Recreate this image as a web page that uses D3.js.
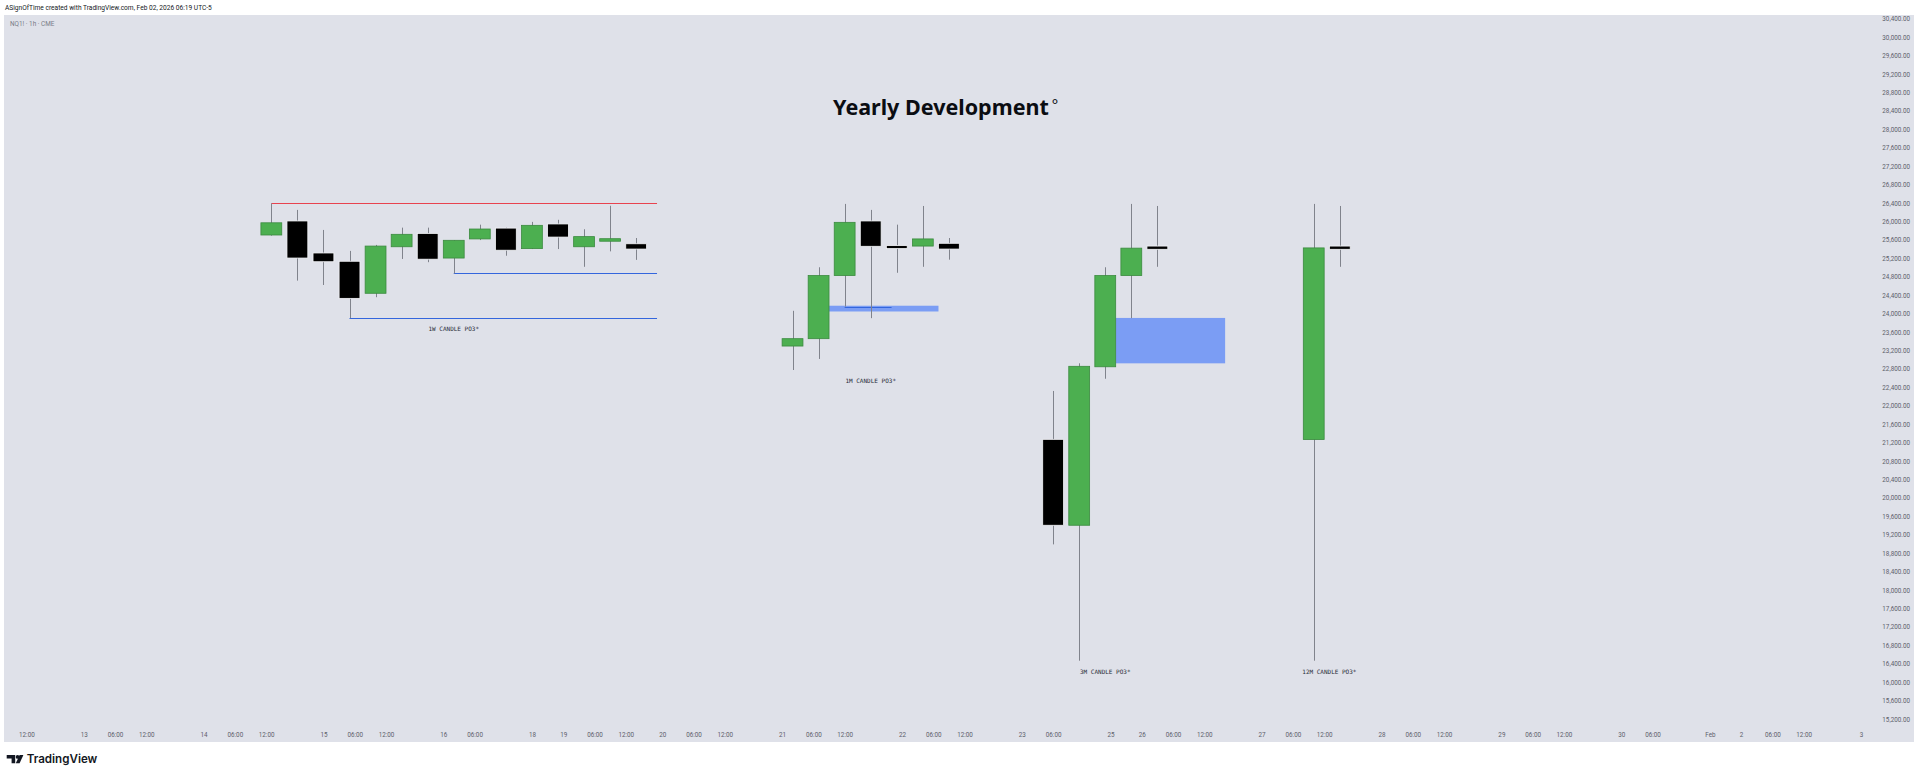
<!DOCTYPE html>
<html>
<head>
<meta charset="utf-8">
<script src="https://cdn.jsdelivr.net/npm/d3@7"></script>
<style>
  html, body { margin: 0; padding: 0; background: #fff; }
  #chart { width: 1920px; height: 776px; }
</style>
</head>
<body>
<div id="chart"></div>
<script>
// time axis: labels and their position in bar units (1h bars, bar 0 = Jan 13 00:00)
const timeLabels = ['12:00', '13', '06:00', '12:00', '14', '06:00', '12:00', '15', '06:00', '12:00',
  '16', '06:00', '18', '19', '06:00', '12:00', '20', '06:00', '12:00', '21', '06:00', '12:00',
  '22', '06:00', '12:00', '23', '06:00', '25', '26', '06:00', '12:00', '27', '06:00', '12:00',
  '28', '06:00', '12:00', '29', '06:00', '12:00', '30', '06:00', 'Feb', '2', '06:00', '12:00', '3'];
const timeBars = [-11, 0, 6, 12, 23, 29, 35, 46, 52, 58,
  69, 75, 86, 92, 98, 104, 111, 117, 123, 134, 140, 146,
  157, 163, 169, 180, 186, 197, 203, 209, 215, 226, 232, 238,
  249, 255, 261, 272, 278, 284, 295, 301, 312, 318, 324, 330, 341];

const priceTicks = [30400, 30000, 29600, 29200, 28800, 28400, 28000, 27600, 27200, 26800,
  26400, 26000, 25600, 25200, 24800, 24400, 24000, 23600, 23200, 22800,
  22400, 22000, 21600, 21200, 20800, 20400, 20000, 19600, 19200, 18800,
  18400, 18000, 17600, 17200, 16800, 16400, 16000, 15600, 15200];

// drawn candles (bar position + OHLC)
const candleBar = [36, 41, 46, 51, 56, 61, 66, 71, 76, 81, 86, 91, 96, 101, 106,
  136, 141, 146, 151, 156, 161, 166,
  186, 191, 196, 201, 206,
  236, 241];
const candleOpen = [25705, 26010, 25315, 25135, 24440, 25450, 25740, 25205, 25620, 25855, 25410, 25945, 25450, 25570, 25515,
  23295, 23455, 24825, 26010, 25475, 25465, 25525,
  21270, 19405, 22845, 24825, 25465,
  21265, 25465];
const candleHigh = [26390, 26250, 25815, 25360, 25490, 25865, 25865, 25595, 25930, 25865, 25990, 26035, 25830, 26340, 25640,
  24060, 25005, 26380, 26250, 25930, 26335, 25640,
  22320, 22920, 25005, 26380, 26335,
  26380, 26335];
const candleLow = [25690, 24715, 24620, 23900, 24355, 25185, 25115, 24870, 25595, 25255, 25400, 25400, 25015, 25350, 25165,
  22775, 23015, 24150, 23900, 24885, 25015, 25170,
  18990, 16465, 22585, 23900, 25015,
  16465, 25015];
const candleClose = [25970, 25205, 25125, 24330, 25465, 25720, 25180, 25590, 25835, 25375, 25915, 25660, 25670, 25625, 25400,
  23455, 24825, 25980, 25460, 25410, 25620, 25400,
  19405, 22855, 24825, 25420, 25395,
  25425, 25395];

// horizontal levels
const levelStart = [36, 71, 51, 146];
const levelEnd = [110, 110, 110, 155];
const levelPrice = [26390, 24870, 23900, 24150];
const levelKind = ['high', 'low', 'low', 'low'];

// gap zones
const zoneStart = [143, 198];
const zoneEnd = [164, 219];
const zoneTop = [24170, 23905];
const zoneBottom = [24045, 22920];

// text notes
const noteText = ['1W CANDLE PO3*', '1M CANDLE PO3*', '3M CANDLE PO3*', '12M CANDLE PO3*'];
const noteBar = [71, 151, 196, 239];
const notePrice = [23665, 22530, 16230, 16215];

const width = 1920;
const height = 776;

const pane = { left: 4, right: 1914, top: 15, bottom: 742 };

const COLORS = {
  background: '#dfe1e9',
  up: '#4caf50',
  upBorder: '#3b8a3f',
  down: '#000000',
  downBorder: '#f4f5f8',
  wick: '#80838c',
  high: '#e8434f',
  low: '#3466dd',
  zone: '#7b9df4',
  axisText: '#5d606b'
};

const svg = d3.select('#chart')
  .append('svg')
  .attr('width', width)
  .attr('height', height)
  .style('display', 'block');

svg.append('rect')
  .attr('width', width)
  .attr('height', height)
  .attr('fill', '#ffffff');

svg.append('rect')
  .attr('x', pane.left)
  .attr('y', pane.top)
  .attr('width', pane.right - pane.left)
  .attr('height', pane.bottom - pane.top)
  .attr('fill', COLORS.background);

const x = d3.scaleLinear()
  .domain([0, 341])
  .range([83.7, 1861]);

const y = d3.scaleLinear()
  .domain([15200, 30400])
  .range([719, 18.7]);

const barWidth = x(4) - x(0);

// header texts
svg.append('text')
  .attr('x', 5)
  .attr('y', 9.8)
  .attr('font-family', 'Roboto, sans-serif')
  .attr('font-size', 6.6)
  .attr('fill', '#131722')
  .text('ASignOfTime created with TradingView.com, Feb 02, 2026 06:19 UTC-5');

svg.append('text')
  .attr('x', 10)
  .attr('y', 26.3)
  .attr('font-family', 'Roboto, sans-serif')
  .attr('font-size', 6.4)
  .attr('fill', '#787b86')
  .text('NQ1! \u00b7 1h \u00b7 CME');

// price axis
const yAxis = d3.axisLeft(y)
  .tickValues(priceTicks)
  .tickSize(0)
  .tickPadding(0)
  .tickFormat(d3.format(',.2f'));

const yAxisG = svg.append('g')
  .attr('transform', 'translate(1910,0)')
  .call(yAxis);
yAxisG.select('.domain').remove();
yAxisG.selectAll('text')
  .attr('font-family', 'Roboto, sans-serif')
  .attr('font-size', 6.3)
  .attr('fill', COLORS.axisText);

// time axis
const xAxis = d3.axisBottom(x)
  .tickValues(timeBars)
  .tickSize(0)
  .tickPadding(3)
  .tickFormat((d, i) => timeLabels[i]);

const xAxisG = svg.append('g')
  .attr('transform', 'translate(0,729.5)')
  .call(xAxis);
xAxisG.select('.domain').remove();
xAxisG.selectAll('text')
  .attr('font-family', 'Roboto, sans-serif')
  .attr('font-size', 6.3)
  .attr('fill', COLORS.axisText);

// title
const title = svg.append('text')
  .attr('x', 833)
  .attr('y', 114.5)
  .attr('font-family', '"Noto Sans", sans-serif')
  .attr('font-weight', 'bold')
  .attr('font-size', 21.5)
  .attr('fill', '#0b0d12');
title.append('tspan').text('Yearly Development');
title.append('tspan')
  .attr('dx', 3)
  .attr('dy', -5)
  .attr('font-size', 15)
  .attr('font-weight', 'normal')
  .text('\u00b0');

// zones
const zones = zoneStart.map((s, i) => ({ s, e: zoneEnd[i], top: zoneTop[i], bottom: zoneBottom[i] }));
svg.selectAll('rect.zone')
  .data(zones)
  .enter()
  .append('rect')
  .attr('class', 'zone')
  .attr('x', d => x(d.s))
  .attr('y', d => y(d.top))
  .attr('width', d => x(d.e) - x(d.s))
  .attr('height', d => y(d.bottom) - y(d.top))
  .attr('fill', COLORS.zone);

// levels
const levels = levelStart.map((s, i) => ({ s, e: levelEnd[i], price: levelPrice[i], kind: levelKind[i] }));
svg.selectAll('line.level')
  .data(levels)
  .enter()
  .append('line')
  .attr('class', 'level')
  .attr('x1', d => x(d.s))
  .attr('x2', d => x(d.e))
  .attr('y1', d => Math.round(y(d.price)) + 0.5)
  .attr('y2', d => Math.round(y(d.price)) + 0.5)
  .attr('stroke', d => d.kind === 'high' ? COLORS.high : COLORS.low)
  .attr('stroke-width', 1.2);

// candles
const candles = candleBar.map((bar, i) => ({
  bar,
  open: candleOpen[i],
  high: candleHigh[i],
  low: candleLow[i],
  close: candleClose[i]
}));

const candleG = svg.selectAll('g.candle')
  .data(candles)
  .enter()
  .append('g')
  .attr('class', 'candle');

candleG.append('line')
  .attr('x1', d => Math.round(x(d.bar)) + 0.5)
  .attr('x2', d => Math.round(x(d.bar)) + 0.5)
  .attr('y1', d => y(d.high))
  .attr('y2', d => y(d.low))
  .attr('stroke', COLORS.wick)
  .attr('stroke-width', 1);

candleG.append('rect')
  .attr('x', d => x(d.bar) - barWidth / 2)
  .attr('y', d => y(Math.max(d.open, d.close)))
  .attr('width', barWidth)
  .attr('height', d => Math.max(1.5, Math.abs(y(d.open) - y(d.close))))
  .attr('fill', d => d.close >= d.open ? COLORS.up : COLORS.down)
  .attr('stroke', d => d.close >= d.open ? COLORS.upBorder : COLORS.downBorder)
  .attr('stroke-width', 0.8);

// notes
const notes = noteText.map((t, i) => ({ t, bar: noteBar[i], price: notePrice[i] }));
svg.selectAll('text.note')
  .data(notes)
  .enter()
  .append('text')
  .attr('class', 'note')
  .attr('x', d => x(d.bar))
  .attr('y', d => y(d.price))
  .attr('dy', '0.35em')
  .attr('text-anchor', 'middle')
  .attr('font-family', '"DejaVu Sans Mono", monospace')
  .attr('font-size', 6)
  .attr('fill', '#2a2e39')
  .text(d => d.t);

// footer logo
const logo = svg.append('g').attr('fill', '#131722');
logo.append('path')
  .attr('d', 'M6.7 755 H15.2 V763.3 H11.6 V758.4 H6.7 Z');
logo.append('circle')
  .attr('cx', 17.6)
  .attr('cy', 756.9)
  .attr('r', 1.9);
logo.append('path')
  .attr('d', 'M19.6 755 H23.4 L19.6 763.3 H15.8 Z');
logo.append('text')
  .attr('x', 26.7)
  .attr('y', 763.3)
  .attr('font-family', 'Inter, sans-serif')
  .attr('font-weight', 600)
  .attr('font-size', 11.6)
  .attr('fill', '#131722')
  .text('TradingView');

console.log('candles:', candles.length);
</script>
</body>
</html>
